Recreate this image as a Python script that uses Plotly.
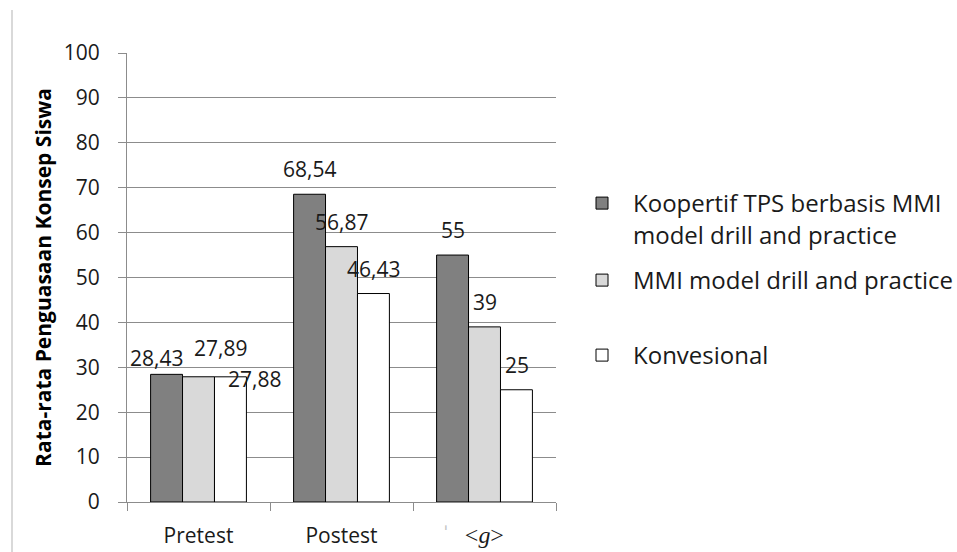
import plotly.graph_objects as go

# Data
categories = ["Pretest", "Postest", "<g>"]
tick_labels = [
    "Pretest", "Postest",
    "<span style=\"color:#c4c4c4\">ˈ</span>&nbsp;&nbsp;&nbsp;"
    "<span style=\"font-family:'Liberation Serif';font-size:24px\">&lt;<i>g</i>&gt;</span>"
    "&nbsp;&nbsp;&nbsp;&nbsp;",
]
series_names = [
    "Koopertif TPS berbasis MMI<br>model drill and practice",
    "MMI model drill and practice",
    "Konvesional",
]
kooperatif = [28.43, 68.54, 55]
mmi_drill = [27.89, 56.87, 39]
konvesional = [27.88, 46.43, 25]
y_ticks = list(range(0, 101, 10))

series_values = [kooperatif, mmi_drill, konvesional]
fills = ["#808080", "#d9d9d9", "#ffffff"]
legend_ids = ["legend", "legend2", "legend3"]

FONT = "Open Sans, Lato, sans-serif"
TXT = "#1a1a1a"
GRID = "#8c8c8c"

fig = go.Figure()
for name, vals, col, lg in zip(series_names, series_values, fills, legend_ids):
    fig.add_trace(go.Bar(
        x=categories, y=vals, name=name, legend=lg,
        marker=dict(color=col, line=dict(color="#000000", width=1)),
    ))

# Value labels (comma decimal separator), offset per bar within a group
def fmt(v):
    return f"{v:g}".replace(".", ",")

bar_offsets = [-32, 0, 32]
extra = {  # per-category label nudges (dx, dy)
    "Pretest": [(-10, 16), (22, 29), (24, -2)],
}
annotations = []
for si, vals in enumerate(series_values):
    for ci, cat in enumerate(categories):
        dx, dy = extra.get(cat, [(0, 25)] * 3)[si]
        annotations.append(dict(
            x=cat, y=vals[ci], text=fmt(vals[ci]), showarrow=False,
            xref="x", yref="y", xanchor="center", yanchor="middle",
            xshift=bar_offsets[si] + dx, yshift=dy,
            font=dict(family=FONT, size=21, color=TXT),
        ))

L, R, T, B = 127, 401, 53, 50
W, H = 957, 552
pw, ph = W - L - R, H - T - B

def px_x(p):
    return (p - L) / pw

def px_y(p):
    return (H - B - p) / ph

legend_common = dict(
    font=dict(family=FONT, size=24, color=TXT),
    bgcolor="rgba(0,0,0,0)", xref="paper", yref="paper",
    xanchor="left", yanchor="top", valign="top", itemwidth=52,
    itemclick=False, itemdoubleclick=False,
)
legend_tops = [181, 258, 333]
legend_left = 571

fig.update_layout(
    width=W, height=H,
    margin=dict(l=L, r=R, t=T, b=B, autoexpand=False),
    paper_bgcolor="#ffffff", plot_bgcolor="#ffffff",
    barmode="group", bargap=0.33, bargroupgap=0,
    showlegend=True,
    legend=dict(x=px_x(legend_left), y=px_y(legend_tops[0]), **legend_common),
    legend2=dict(x=px_x(legend_left), y=px_y(legend_tops[1]), **legend_common),
    legend3=dict(x=px_x(legend_left), y=px_y(legend_tops[2]), **legend_common),
    annotations=annotations,
    shapes=[dict(type="line", xref="paper", yref="paper",
                 x0=px_x(12), x1=px_x(12), y0=px_y(10), y1=px_y(552),
                 line=dict(color="#d9d9d9", width=2))],
    xaxis=dict(
        tickvals=categories, ticktext=tick_labels,
        tickson="boundaries", ticks="outside", ticklen=8, tickcolor=GRID,
        showline=True, linecolor=GRID, linewidth=1,
        showgrid=False, ticklabelstandoff=15,
        tickfont=dict(family=FONT, size=21, color=TXT),
    ),
    yaxis=dict(
        range=[0, 100], tickvals=y_ticks,
        ticks="outside", ticklen=8, tickcolor=GRID,
        showline=True, linecolor=GRID, linewidth=1,
        showgrid=True, gridcolor=GRID, gridwidth=1, zeroline=False,
        ticklabelstandoff=14,
        tickfont=dict(family=FONT, size=21, color=TXT),
        title=dict(text="<b>Rata-rata Penguasaan Konsep Siswa</b>",
                   font=dict(family=FONT, size=21, color="#000000"),
                   standoff=6),
    ),
)

fig.write_html("out.html")
